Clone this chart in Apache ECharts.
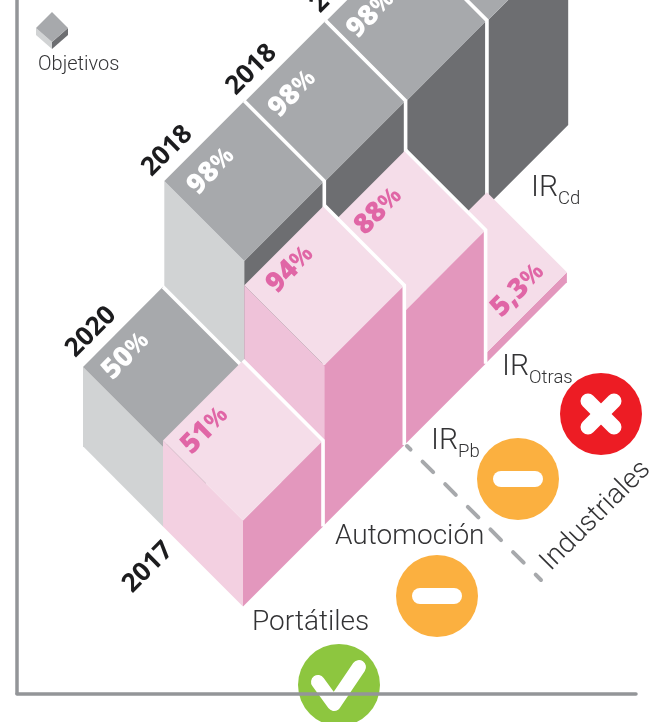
<!DOCTYPE html>
<html>
<head>
<meta charset="utf-8">
<style>
  html, body { margin: 0; padding: 0; background: #fff; }
  #chart { width: 653px; height: 722px; }
</style>
<script src="https://cdn.jsdelivr.net/npm/echarts@6/dist/echarts.min.js"></script>
</head>
<body>
<div id="chart"></div>
<script>
// Columns, front to back
const categories = ['Portátiles', 'Automoción', 'IR_Pb', 'IR_Otras', 'IR_Cd']
const statuses = ['ok', 'partial', 'partial', 'fail']

// Printed percentages
const resultLabels = ['51', '94', '88', '5,3']
const targetLabels = ['50', '98', '98', '98']
const resultYears = ['2017']
const targetYears = ['2020', '2018', '2018', '2018']

// Bar heights, in percent units (the artwork is not quite to scale)
const resultHeights = [46, 85.5, 71.5, 5.4]
const targetHeights = [42.5, 99, 99, 99, 99]

const PINK = '#e066a6'
const INK = '#333335'
const THIN_FONT = 'Roboto'
const BOLD_FONT = '"Open Sans"'

// Axis scale: 1 x unit is one column step, 1 y unit is one percent of bar height
const X_MAX = 7.614
const Y_MAX = 371.2
const ORIGIN_X = 2.78
const ORIGIN_Y = 46.6
const RESULT_RISE = 43.55
const TARGET_RISE = 43.0
const HALF_W = 0.984
const HALF_H = 42.85

const greyFaces = { top: '#a7a9ac', left: '#d1d3d4', right: '#6d6e71' }
const pinkFaces = { top: '#f5dde9', left: '#efc2d9', right: '#e397bd' }

// Label nudges in pixels from the left vertex of each top face
const targetNudge = [[43, -11], [47, -10], [47, -7], [44, -6]]
const resultNudge = [[42, -10], [46, -16], [53, -19], [111, 18]]
const yearNudge = [[8, -35], [3, -30], [6, -31], [9, -33]]

function corner(col, row, a, b, h) {
  // a, b step across the top diamond from its front vertex
  const rise = row < 0 ? TARGET_RISE : RESULT_RISE
  return [
    ORIGIN_X + col + row * HALF_W + (a - b) * HALF_W,
    ORIGIN_Y + col * rise - row * HALF_H + (a + b) * HALF_H + h
  ]
}

function percentText(num) {
  return `{n|${num}}{p|%}`
}

function percentStyle(color) {
  return {
    fill: color,
    align: 'center',
    verticalAlign: 'middle',
    rich: {
      n: { fontFamily: BOLD_FONT, fontWeight: 800, fontSize: 28, fill: color },
      p: { fontFamily: BOLD_FONT, fontWeight: 700, fontSize: 24, fill: color }
    }
  }
}

function renderBar(params, api) {
  const col = api.value(0)
  const row = api.value(1)
  const h = api.value(2)
  const isTarget = row < 0
  const faces = isTarget ? greyFaces : pinkFaces
  const pt = (a, b, z) => api.coord(corner(col, row, a, b, z))

  const front = pt(0, 0, 0)
  const right = pt(1, 0, 0)
  const left = pt(0, 1, 0)
  const frontTop = pt(0, 0, h)
  const rightTop = pt(1, 0, h)
  const leftTop = pt(0, 1, h)
  const backTop = pt(1, 1, h)

  const poly = (points, fill) => ({
    type: 'polygon',
    shape: { points },
    style: { fill }
  })
  let leftFill = faces.left
  if (!isTarget && col === 0) leftFill = '#f3d0e1'

  const children = [
    poly([left, front, frontTop, leftTop], leftFill),
    poly([front, right, rightTop, frontTop], faces.right),
    poly([leftTop, frontTop, rightTop, backTop], faces.top)
  ]

  const lastCol = isTarget ? targetHeights.length - 1 : resultHeights.length - 1
  if (col < lastCol) {
    children.push({
      type: 'polyline',
      shape: { points: [backTop, rightTop, right] },
      style: { stroke: '#fff', lineWidth: 3.6, fill: null, lineJoin: 'miter' }
    })
  }

  const labels = isTarget ? targetLabels : resultLabels
  if (labels[col] !== undefined) {
    const nudge = isTarget ? targetNudge[col] : resultNudge[col]
    children.push({
      type: 'text',
      x: leftTop[0] + nudge[0],
      y: leftTop[1] + nudge[1],
      rotation: Math.PI / 4,
      z2: 100,
      style: { text: percentText(labels[col]), ...percentStyle(isTarget ? '#fff' : PINK) }
    })
  }

  if (isTarget && targetYears[col]) {
    children.push({
      type: 'text',
      x: leftTop[0] + yearNudge[col][0],
      y: leftTop[1] + yearNudge[col][1],
      rotation: Math.PI / 4,
      z2: 100,
      style: {
        text: targetYears[col],
        fill: '#1c1c1e',
        fontFamily: BOLD_FONT,
        fontWeight: 700,
        fontSize: 26,
        align: 'center',
        verticalAlign: 'middle'
      }
    })
  }
  if (!isTarget && col === 0) {
    children.push({
      type: 'text',
      x: left[0] - 15,
      y: left[1] + 41,
      rotation: Math.PI / 4,
      z2: 100,
      style: {
        text: resultYears[0],
        fill: '#1c1c1e',
        fontFamily: BOLD_FONT,
        fontWeight: 700,
        fontSize: 26,
        align: 'center',
        verticalAlign: 'middle'
      }
    })
  }
  return { type: 'group', children }
}

// Back columns are painted first
const targetRows = targetHeights.map((h, i) => [i, -1, h]).reverse()
const resultRows = resultHeights.map((h, i) => [i, 0, h]).reverse()

function categoryText(name, x, y) {
  const parts = name.split('_')
  const text = parts[1] ? `{b|${parts[0]}}{s|${parts[1]}}` : `{t|${parts[0]}}`
  return {
    type: 'text',
    x,
    y,
    z: 20,
    style: {
      text,
      align: 'left',
      verticalAlign: 'middle',
      rich: {
        t: { fontFamily: THIN_FONT, fontWeight: 300, fontSize: 28, fill: INK },
        b: { fontFamily: THIN_FONT, fontWeight: 300, fontSize: 30, fill: INK, padding: [0, 0, 6, 0] },
        s: { fontFamily: THIN_FONT, fontWeight: 300, fontSize: 18.5, fill: INK, verticalAlign: 'bottom' }
      }
    }
  }
}

function badge(kind, cx, cy) {
  const colors = { ok: '#8dc63f', partial: '#fbb040', fail: '#ed1c24' }
  const mark = { stroke: '#fff', fill: null, lineCap: 'round', lineJoin: 'round' }
  const children = [{
    type: 'circle',
    shape: { cx, cy, r: 41 },
    style: { fill: colors[kind] }
  }]
  if (kind === 'ok') {
    children.push({
      type: 'polyline',
      shape: { points: [[cx - 21, cy - 3], [cx - 5, cy + 19], [cx + 20, cy - 18]] },
      style: { ...mark, lineWidth: 14 }
    })
  } else if (kind === 'partial') {
    children.push({
      type: 'line',
      shape: { x1: cx - 17, y1: cy, x2: cx + 17, y2: cy },
      style: { ...mark, lineWidth: 16 }
    })
  } else {
    children.push(
      { type: 'line', shape: { x1: cx - 13, y1: cy - 13, x2: cx + 13, y2: cy + 13 }, style: { ...mark, lineWidth: 15 } },
      { type: 'line', shape: { x1: cx - 13, y1: cy + 13, x2: cx + 13, y2: cy - 13 }, style: { ...mark, lineWidth: 15 } }
    )
  }
  return { type: 'group', z: 20, children }
}

const badgeSpots = [[339, 685], [437, 596], [518, 479], [601, 414]]
const categorySpots = [[252, 623], [335, 537], [431, 444], [502, 370], [531, 191]]

const chart = echarts.init(document.getElementById('chart'), undefined, { renderer: 'canvas' })

chart.setOption({
  animation: false,
  backgroundColor: '#fff',
  grid: { left: 17, right: 17, top: 0, bottom: 28.5 },
  xAxis: {
    type: 'value',
    min: 0,
    max: X_MAX,
    axisLine: { show: true, onZero: false, lineStyle: { color: '#939598', width: 3.5 } },
    axisTick: { show: false },
    axisLabel: { show: false },
    splitLine: { show: false }
  },
  yAxis: {
    type: 'value',
    min: 0,
    max: Y_MAX,
    axisLine: { show: true, onZero: false, lineStyle: { color: '#939598', width: 3.5 } },
    axisTick: { show: false },
    axisLabel: { show: false },
    splitLine: { show: false }
  },
  series: [
    { name: 'Objetivos', type: 'custom', renderItem: renderBar, data: targetRows, z: 3 },
    { name: 'Resultados', type: 'custom', renderItem: renderBar, data: resultRows, z: 4 }
  ],
  graphic: [
    // legend swatch
    {
      type: 'group',
      z: 20,
      children: [
        { type: 'polygon', shape: { points: [[36, 28], [52, 42], [52, 49], [36, 35]] }, style: { fill: greyFaces.left } },
        { type: 'polygon', shape: { points: [[52, 42], [68, 28], [68, 35], [52, 49]] }, style: { fill: greyFaces.right } },
        { type: 'polygon', shape: { points: [[52, 12], [68, 28], [52, 42], [36, 28]] }, style: { fill: greyFaces.top } }
      ]
    },
    {
      type: 'text',
      x: 38,
      y: 65,
      z: 20,
      style: { text: 'Objetivos', fill: INK, fontFamily: THIN_FONT, fontWeight: 300, fontSize: 20, align: 'left', verticalAlign: 'middle' }
    },
    {
      type: 'line',
      z: 10,
      shape: { x1: 407, y1: 446, x2: 541, y2: 580 },
      style: { stroke: '#a7a9ac', lineWidth: 4, lineDash: [15, 17], lineDashOffset: 10, lineCap: 'round' }
    },
    {
      type: 'text',
      x: 596,
      y: 516,
      z: 20,
      rotation: Math.PI / 4,
      style: { text: 'Industriales', fill: INK, fontFamily: THIN_FONT, fontWeight: 300, fontSize: 28, align: 'center', verticalAlign: 'middle' }
    },
    ...categories.map((name, i) => categoryText(name, categorySpots[i][0], categorySpots[i][1])),
    ...statuses.map((kind, i) => badge(kind, badgeSpots[i][0], badgeSpots[i][1]))
  ]
})
</script>
</body>
</html>
